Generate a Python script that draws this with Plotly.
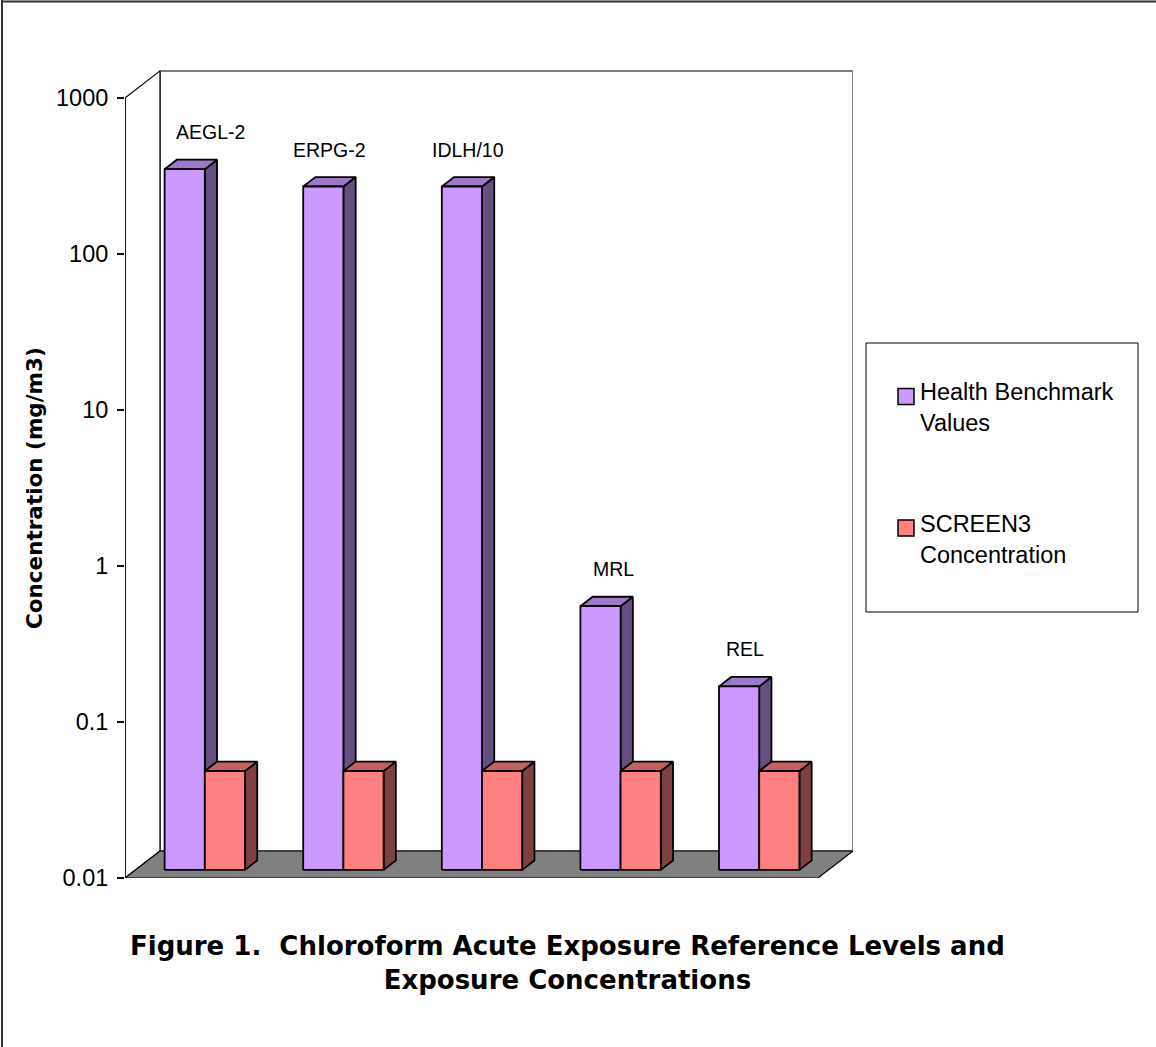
import numpy as np
import plotly.graph_objects as go

# ---- data (mg/m3) ----
categories = ["AEGL-2", "ERPG-2", "IDLH/10", "MRL", "REL"]
benchmark_values = [310, 240, 240, 0.49, 0.15]
screen3_values = [0.043, 0.043, 0.043, 0.043, 0.043]
series_names = ["Health Benchmark<br>Values", "SCREEN3<br>Concentration"]
tick_values = [0.01, 0.1, 1, 10, 100, 1000]
tick_labels = ["0.01", "0.1", "1", "10", "100", "1000"]

# ---- styling ----
FONT = "Liberation Sans, Arial, sans-serif"
BOLD_FONT = "DejaVu Sans, Liberation Sans, Arial, sans-serif"
face_colors = [
    {"front": "#CC99FF", "top": "#9E79C9", "side": "#654E80"},
    {"front": "#FF8080", "top": "#C46262", "side": "#7F4040"},
]
label_nudge = [20, 0, 0, 7, 0]   # px offsets for category labels

# ---- pseudo-3D geometry (in axis units) ----
FLOOR = 0.01
TOP = 1000
N = len(categories)
DEPTH_X = 0.2525     # x shift of the full chart depth, category units
DEPTH_Y = 0.1732     # vertical shift of the full chart depth, decades
BAR_FRONT, BAR_BACK = 0.30, 0.65
BAR_W = 0.29

W_PX, H_PX = 1156, 1047
M_L, M_R, M_T, M_B = 125, 303, 70, 169
X_RANGE = [0, N + DEPTH_X]
Y_RANGE = [np.log10(FLOOR), np.log10(FLOOR) + 5.179]


def proj(x, v, d):
    """Project a point (x, value, depth fraction) onto the page."""
    return x + d * DEPTH_X, 10 ** (np.log10(v) + d * DEPTH_Y)


def polys_trace(polys, fill, line_color="black", width=1.8):
    xs, ys = [], []
    for poly in polys:
        pts = [proj(*p) for p in poly]
        pts.append(pts[0])
        xs += [p[0] for p in pts] + [None]
        ys += [p[1] for p in pts] + [None]
    return go.Scatter(x=xs, y=ys, mode="lines", fill="toself", fillcolor=fill,
                      line=dict(color=line_color, width=width),
                      hoverinfo="skip", showlegend=False)


def to_paper_x(px):
    return (px - M_L) / (W_PX - M_L - M_R)


def to_paper_y(py):
    return (H_PX - M_B - py) / (H_PX - M_T - M_B)


fig = go.Figure()

# walls and floor
back_wall = [[(0, FLOOR, 1), (N, FLOOR, 1), (N, TOP, 1), (0, TOP, 1)]]
left_wall = [[(0, FLOOR, 0), (0, TOP, 0), (0, TOP, 1), (0, FLOOR, 1)]]
floor = [[(0, FLOOR, 0), (N, FLOOR, 0), (N, FLOOR, 1), (0, FLOOR, 1)]]
fig.add_trace(polys_trace(back_wall, "white", "#7F7F7F", 2))
fig.add_trace(polys_trace(left_wall, "white", "black", 1.2))
fig.add_trace(polys_trace(floor, "#808080", "black", 1.2))

# bars, one series after another (left series first so the right one overlaps it)
for s, values in enumerate([benchmark_values, screen3_values]):
    fronts, tops, sides = [], [], []
    for i, v in enumerate(values):
        x0 = i + 0.5 - BAR_W + s * BAR_W
        x1 = x0 + BAR_W
        fronts.append([(x0, FLOOR, BAR_FRONT), (x1, FLOOR, BAR_FRONT),
                       (x1, v, BAR_FRONT), (x0, v, BAR_FRONT)])
        tops.append([(x0, v, BAR_FRONT), (x1, v, BAR_FRONT),
                     (x1, v, BAR_BACK), (x0, v, BAR_BACK)])
        sides.append([(x1, FLOOR, BAR_FRONT), (x1, v, BAR_FRONT),
                      (x1, v, BAR_BACK), (x1, FLOOR, BAR_BACK)])
    c = face_colors[s]
    fig.add_trace(polys_trace(sides, c["side"]))
    fig.add_trace(polys_trace(tops, c["top"]))
    fig.add_trace(polys_trace(fronts, c["front"]))

# category labels above the benchmark bars
for i, (name, v) in enumerate(zip(categories, benchmark_values)):
    xc = i + 0.5 - BAR_W / 2 + (BAR_FRONT + BAR_BACK) / 2 * DEPTH_X
    fig.add_annotation(x=xc, y=np.log10(v) + BAR_FRONT * DEPTH_Y, text=name,
                       showarrow=False, yanchor="middle", yshift=37,
                       xshift=label_nudge[i],
                       font=dict(family=FONT, size=19.5, color="black"))

shapes = [
    # value axis line
    dict(type="line", xref="x", yref="y", x0=0, x1=0, y0=FLOOR, y1=TOP,
         line=dict(color="black", width=1.5)),
    # outer frame (top and left edges)
    dict(type="line", xref="paper", yref="paper", x0=to_paper_x(1), x1=to_paper_x(W_PX),
         y0=to_paper_y(1.5), y1=to_paper_y(1.5), line=dict(color="#333", width=2)),
    dict(type="line", xref="paper", yref="paper", x0=to_paper_x(2), x1=to_paper_x(2),
         y0=to_paper_y(0), y1=to_paper_y(H_PX), line=dict(color="#333", width=2)),
    # legend box
    dict(type="rect", xref="paper", yref="paper", x0=to_paper_x(866), x1=to_paper_x(1138),
         y0=to_paper_y(612), y1=to_paper_y(343), line=dict(color="black", width=1),
         fillcolor="white"),
]

# legend entries
legend_rows = [(396.5, 407.5), (528, 539)]
for s, name in enumerate(series_names):
    sy, ty = legend_rows[s]
    shapes.append(dict(type="rect", xref="paper", yref="paper",
                       x0=to_paper_x(898), x1=to_paper_x(914),
                       y0=to_paper_y(sy + 8), y1=to_paper_y(sy - 8),
                       fillcolor=face_colors[s]["front"], line=dict(color="black", width=1.5)))
    fig.add_annotation(xref="paper", yref="paper", x=to_paper_x(918), y=to_paper_y(ty),
                       xanchor="left", yanchor="middle", align="left", showarrow=False,
                       text=name, font=dict(family=FONT, size=23.5, color="black"))

# axis title
fig.add_annotation(xref="paper", yref="paper", x=to_paper_x(34), y=to_paper_y(488),
                   text="<b>Concentration (mg/m3)</b>", textangle=-90, showarrow=False,
                   xanchor="center", yanchor="middle",
                   font=dict(family=BOLD_FONT, size=21.5, color="black"))

# figure caption
fig.add_annotation(xref="paper", yref="paper", x=to_paper_x(567), y=to_paper_y(963),
                   text="<b>Figure 1.  Chloroform Acute Exposure Reference Levels and<br>"
                        "Exposure Concentrations</b>",
                   showarrow=False, xanchor="center", yanchor="middle", align="center",
                   font=dict(family=BOLD_FONT, size=26, color="black"))

fig.update_layout(
    width=W_PX, height=H_PX,
    margin=dict(l=M_L, r=M_R, t=M_T, b=M_B, pad=0),
    paper_bgcolor="white", plot_bgcolor="white",
    showlegend=False,
    shapes=shapes,
    xaxis=dict(range=X_RANGE, visible=False, fixedrange=True),
    yaxis=dict(type="log", range=Y_RANGE, tickmode="array", tickvals=tick_values,
               ticktext=tick_labels, ticks="outside", ticklen=7, tickwidth=1.5,
               tickcolor="black", showline=False, showgrid=False, zeroline=False,
               tickfont=dict(family=FONT, size=23.5, color="black"),
               ticklabelstandoff=4, fixedrange=True),
)

fig.write_html("out.html")
